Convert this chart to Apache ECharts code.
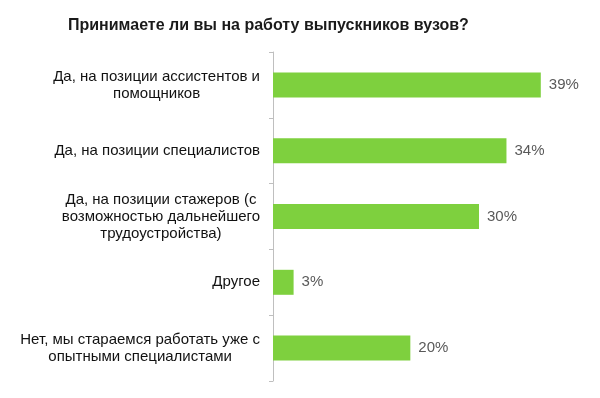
<!DOCTYPE html>
<html>
<head>
<meta charset="utf-8">
<script src="https://cdn.jsdelivr.net/npm/echarts@6/dist/echarts.min.js"></script>
<style>
    html, body { margin: 0; padding: 0; background: #fff; }
    #chart { width: 600px; height: 398px; }
</style>
</head>
<body>
<div id="chart"></div>
<script>
    // answers, top to bottom
    const categories = [
        'Да, на позиции ассистентов и\nпомощников',
        'Да, на позиции специалистов',
        'Да, на позиции стажеров (с\nвозможностью дальнейшего\nтрудоустройства)',
        'Другое',
        'Нет, мы стараемся работать уже с\nопытными специалистами'
    ]
    const values = [39, 34, 30, 3, 20]

    let myChart = echarts.init(document.getElementById('chart'))
    let option = {
        title: {
            text: 'Принимаете ли вы на работу выпускников вузов?',
            left: 63,
            top: 13,
            textStyle: {
                fontFamily: 'Liberation Sans',
                fontSize: 16,
                fontWeight: 'bold',
                color: '#1a1a1a'
            }
        },
        grid: {
            left: 273,
            right: 18,
            top: 52,
            bottom: 17
        },
        xAxis: {
            type: 'value',
            min: 0,
            max: 45,
            show: false
        },
        yAxis: {
            type: 'category',
            inverse: true,
            data: categories,
            axisLine: {
                lineStyle: { color: '#bfbfbf', width: 1 }
            },
            axisTick: {
                show: true,
                length: 4,
                lineStyle: { color: '#bfbfbf' }
            },
            axisLabel: {
                margin: 13,
                align: 'right',
                // each line centred inside the right-aligned block
                formatter: function (value) {
                    return value.split('\n').map(function (s) { return '{c|' + s + '}' }).join('\n')
                },
                rich: {
                    c: {
                        align: 'center',
                        fontFamily: 'Liberation Sans',
                        fontSize: 15,
                        lineHeight: 17,
                        color: '#111'
                    }
                }
            }
        },
        series: [{
            type: 'bar',
            data: values,
            barWidth: 25,
            itemStyle: { color: '#7ed03e' },
            label: {
                show: true,
                position: 'right',
                distance: 8,
                formatter: '{c}%',
                fontFamily: 'Liberation Sans',
                fontSize: 15,
                color: '#595959'
            }
        }]
    }
    myChart.setOption(option)
</script>
</body>
</html>
